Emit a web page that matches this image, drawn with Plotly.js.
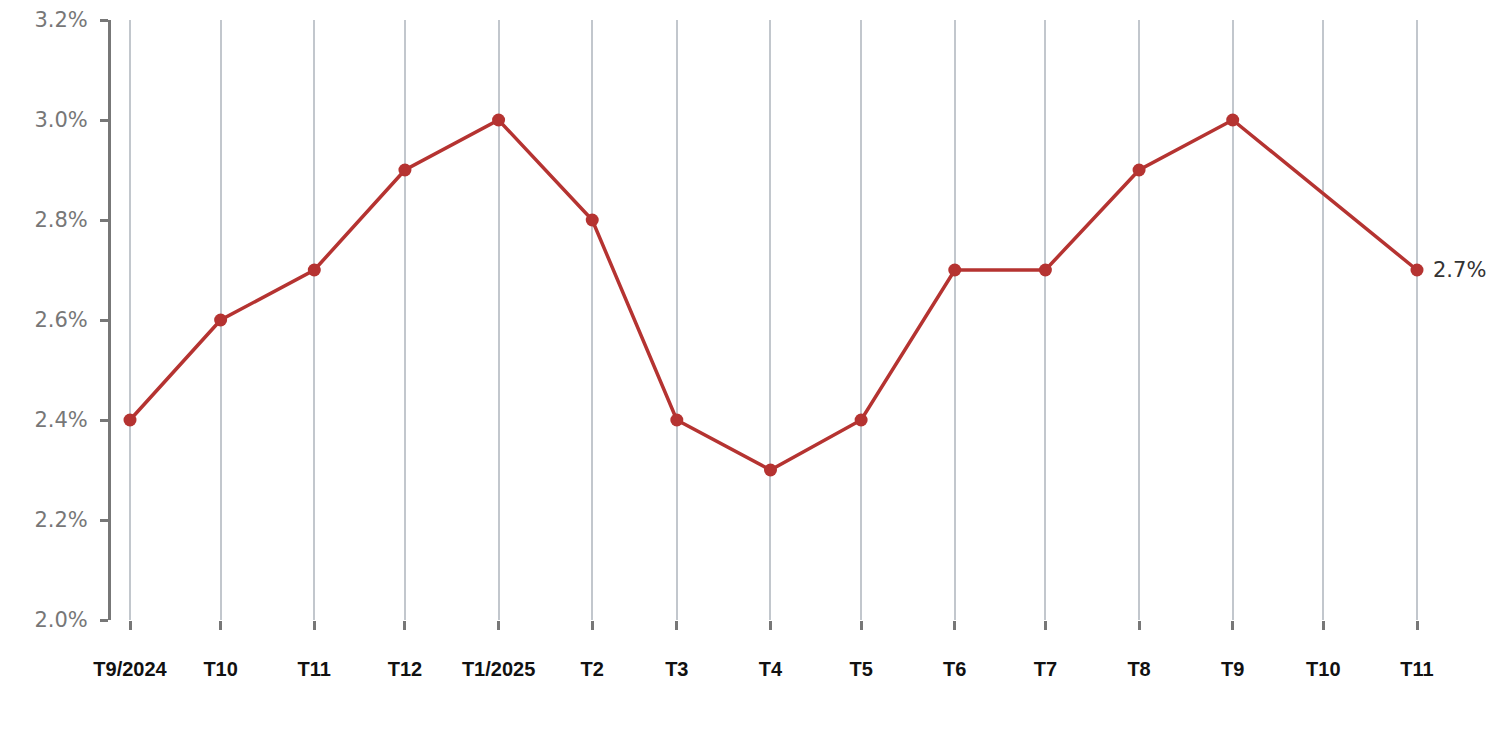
<!DOCTYPE html>
<html>
<head>
<meta charset="utf-8">
<script src="https://cdn.plot.ly/plotly-3.0.1.min.js"></script>
<style>html,body{margin:0;padding:0;background:#fff;}#chart{width:1512px;height:738px;}</style>
</head>
<body>
<div id="chart"></div>
<script>
const months = ["2024-09-01","2024-10-01","2024-11-01","2024-12-01","2025-01-01","2025-02-01","2025-03-01","2025-04-01","2025-05-01","2025-06-01","2025-07-01","2025-08-01","2025-09-01","2025-10-01","2025-11-01"];
const tickLabels = ["T9/2024","T10","T11","T12","T1/2025","T2","T3","T4","T5","T6","T7","T8","T9","T10","T11"];
const rates = [2.4, 2.6, 2.7, 2.9, 3.0, 2.8, 2.4, 2.3, 2.4, 2.7, 2.7, 2.9, 3.0, null, 2.7];
const lastLabel = "2.7%";

const W = 1512, ML = 111, MR = 12;
const t0 = Date.parse(months[0]), t1 = Date.parse(months[months.length-1]);
const msPerPx = (t1 - t0) / (1417 - 130);
const start = t0 - 19 * msPerPx;
const end = start + (W - ML - MR) * msPerPx;

const trace = {
  x: months, y: rates, type: 'scatter', mode: 'lines+markers', connectgaps: true,
  line: {color: '#b53331', width: 3.5},
  marker: {color: '#b53331', size: 13},
  hoverinfo: 'skip'
};

const layout = {
  width: 1512, height: 738,
  margin: {l: ML, r: MR, t: 20, b: 118},
  paper_bgcolor: '#fff', plot_bgcolor: '#fff',
  showlegend: false,
  xaxis: {
    type: 'date', range: [new Date(start).toISOString(), new Date(end).toISOString()],
    tickmode: 'array', tickvals: months, ticktext: tickLabels,
    showgrid: true, gridcolor: '#c2c7cd', gridwidth: 2,
    zeroline: false, showline: false,
    ticks: 'outside', ticklen: 9, tickwidth: 3, tickcolor: '#777',
    ticklabelstandoff: 22,
    tickfont: {family: 'Liberation Sans, Arial, sans-serif', size: 20, color: '#111', weight: 'bold'}
  },
  yaxis: {
    range: [2.0, 3.2], tickmode: 'linear', tick0: 2.0, dtick: 0.2,
    tickformat: '.1f', ticksuffix: '%',
    showgrid: false, zeroline: false,
    showline: true, linecolor: '#777', linewidth: 3,
    ticks: 'outside', ticklen: 8, tickwidth: 3, tickcolor: '#777',
    ticklabelstandoff: 8,
    tickfont: {family: 'DejaVu Sans, sans-serif', size: 21, color: '#777'}
  },
  annotations: [{
    x: months[months.length-1], y: rates[rates.length-1], xref: 'x', yref: 'y',
    text: lastLabel, showarrow: false, xanchor: 'left', yanchor: 'middle', xshift: 14,
    font: {family: 'DejaVu Sans, sans-serif', size: 21, color: '#333'}
  }]
};

Plotly.newPlot('chart', [trace], layout, {displayModeBar: false, staticPlot: true});
</script>
</body>
</html>
